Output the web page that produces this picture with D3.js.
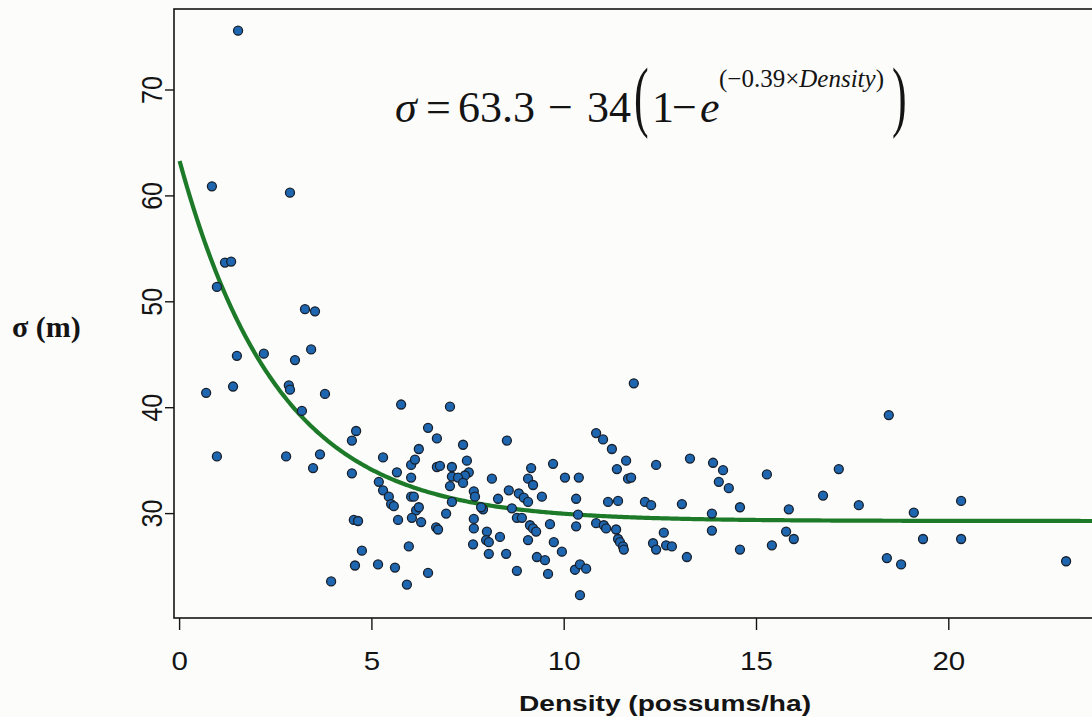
<!DOCTYPE html>
<html>
<head>
<meta charset="utf-8">
<script src="https://cdn.jsdelivr.net/npm/d3@7"></script>
<style>
  html, body { margin: 0; padding: 0; background: #fcfcfb; }
  svg { display: block; }
</style>
</head>
<body>
<svg id="chart" width="1092" height="717"></svg>
<script>
// Possum density (per ha) against home-range scale sigma (m)
const density = [
  1.52,0.84,2.87,1.18,1.34,0.97,3.26,3.52,1.49,2.19,
  3.00,3.42,0.69,1.39,2.84,2.87,3.78,3.18,5.76,7.03,
  0.97,2.77,3.65,3.47,4.48,4.59,4.48,5.29,5.65,6.02,
  6.12,6.22,6.46,6.69,6.69,6.77,6.02,5.18,5.29,5.44,
  5.50,5.57,6.02,6.09,6.15,6.22,6.04,6.28,5.68,4.53,
  4.64,6.93,6.67,6.72,4.74,4.56,5.16,5.60,3.94,5.96,
  5.91,6.46,7.08,7.37,7.47,7.52,7.42,7.08,7.24,7.37,
  7.03,7.08,7.65,7.68,7.65,7.65,7.89,7.84,7.99,7.97,
  8.04,7.63,8.33,8.12,8.28,8.51,8.56,8.64,8.77,8.90,
  8.82,8.95,9.06,9.06,9.14,9.19,9.11,9.19,9.27,9.06,
  9.42,9.71,9.63,9.73,9.94,10.02,10.38,10.31,10.36,10.31,
  10.28,10.41,10.57,10.41,9.29,9.50,9.58,8.77,8.49,8.04,
  10.83,11.01,11.24,11.61,11.37,11.66,11.14,11.40,10.83,11.03,
  11.09,11.35,11.40,11.45,11.53,11.55,11.81,11.74,12.39,13.27,
  13.87,14.13,14.02,14.28,14.57,15.27,17.14,16.73,15.84,17.66,
  12.10,12.26,13.06,13.84,13.84,12.59,12.31,12.39,12.65,12.80,
  13.19,14.57,15.40,15.77,15.97,18.44,19.09,20.32,19.33,20.32,
  18.39,18.76,23.05
];
const sigma = [
  75.6,60.9,60.3,53.7,53.8,51.4,49.3,49.1,44.9,45.1,
  44.5,45.5,41.4,42.0,42.1,41.7,41.3,39.7,40.3,40.1,
  35.4,35.4,35.6,34.3,36.9,37.8,33.8,35.3,33.9,34.6,
  35.1,36.1,38.1,37.1,34.4,34.5,33.4,33.0,32.2,31.6,
  30.9,30.7,31.6,31.6,30.3,30.6,29.6,29.2,29.4,29.4,
  29.3,30.0,28.7,28.5,26.5,25.1,25.2,24.9,23.6,26.9,
  23.3,24.4,34.4,36.5,35.0,33.9,33.6,33.5,33.4,32.9,
  32.6,31.1,32.1,31.6,29.5,28.6,30.4,30.6,28.3,27.5,
  27.3,27.1,27.8,33.3,31.4,36.9,32.2,30.5,29.6,29.6,
  31.9,31.5,31.1,33.3,34.3,32.7,28.9,28.6,28.3,27.5,
  31.6,34.7,29.0,27.3,26.4,33.4,33.4,31.4,29.9,28.8,
  24.7,25.2,24.8,22.3,25.9,25.6,24.3,24.6,26.2,26.2,
  37.6,37.0,36.1,35.0,34.2,33.3,31.1,31.2,29.1,28.9,
  28.6,28.5,27.6,27.3,26.9,26.6,42.3,33.4,34.6,35.2,
  34.8,34.1,33.0,32.4,30.6,33.7,34.2,31.7,30.4,30.8,
  31.1,30.8,30.9,30.0,28.4,28.2,27.2,26.6,27.0,26.9,
  25.9,26.6,27.0,28.3,27.6,39.3,30.1,31.2,27.6,27.6,
  25.8,25.2,25.5
];
const xTicks = [0, 5, 10, 15, 20];
const yTicks = [30, 40, 50, 60, 70];

// Fitted model: sigma = a - b * (1 - exp(-c * Density))
const fitA = 63.3, fitB = 34, fitC = 0.39;

const svg = d3.select("#chart");
const box = { left: 174, right: 1100, top: 9, bottom: 618 };

const x = d3.scaleLinear().domain([0, 20]).range([179.6, 948.8]);
const y = d3.scaleLinear().domain([30, 70]).range([513.6, 90]);

const ink = "#141414";
const sansTick = "'Liberation Sans', Arial, sans-serif";
const serif = "'Liberation Serif', 'Times New Roman', serif";

// plot frame (right side runs past the page)
svg.append("rect")
  .attr("x", box.left).attr("y", box.top)
  .attr("width", box.right - box.left).attr("height", box.bottom - box.top)
  .attr("fill", "none").attr("stroke", ink).attr("stroke-width", 1.6);

// x axis ticks and labels
const gx = svg.append("g");
gx.selectAll("line").data(xTicks).join("line")
  .attr("x1", d => x(d)).attr("x2", d => x(d))
  .attr("y1", box.bottom).attr("y2", box.bottom + 12)
  .attr("stroke", ink).attr("stroke-width", 1.4);
gx.selectAll("text").data(xTicks).join("text")
  .attr("transform", d => `translate(${x(d)},670) scale(1.18,1)`)
  .attr("text-anchor", "middle")
  .attr("font-family", sansTick).attr("font-size", 25)
  .attr("fill", ink)
  .text(d => d);

// y axis ticks and rotated labels
const gy = svg.append("g");
gy.selectAll("line").data(yTicks).join("line")
  .attr("x1", box.left - 9).attr("x2", box.left)
  .attr("y1", d => y(d)).attr("y2", d => y(d))
  .attr("stroke", ink).attr("stroke-width", 1.4);
gy.selectAll("text").data(yTicks).join("text")
  .attr("transform", d => `translate(162,${y(d)}) rotate(-90) scale(1,1.2)`)
  .attr("text-anchor", "middle")
  .attr("font-family", sansTick).attr("font-size", 25)
  .attr("fill", ink)
  .text(d => d);

// axis titles
svg.append("text")
  .attr("x", 519).attr("y", 711)
  .attr("font-family", sansTick).attr("font-weight", "bold")
  .attr("font-size", 22)
  .attr("textLength", 292).attr("lengthAdjust", "spacingAndGlyphs")
  .attr("fill", ink)
  .text("Density (possums/ha)");

svg.append("text")
  .attr("x", 12).attr("y", 337)
  .attr("font-family", serif).attr("font-weight", "bold")
  .attr("font-size", 30)
  .attr("fill", ink)
  .text("σ (m)");

// fitted curve
const curveX = d3.range(0, 24.01, 0.05);
const line = d3.line()
  .x(d => x(d))
  .y(d => y(fitA - fitB * (1 - Math.exp(-fitC * d))))
  .curve(d3.curveLinear);
svg.append("path")
  .datum(curveX)
  .attr("d", line)
  .attr("fill", "none")
  .attr("stroke", "#1c7a28")
  .attr("stroke-width", 4.2)
  .attr("stroke-linejoin", "round");

// observations
const pts = density.map((d, i) => ({ d, s: sigma[i] }));
svg.append("g").selectAll("circle").data(pts).join("circle")
  .attr("cx", p => x(p.d))
  .attr("cy", p => y(p.s))
  .attr("r", 4.5)
  .attr("fill", "#1f66b0")
  .attr("stroke", "#17202c")
  .attr("stroke-width", 1.3);

// model equation
const eq = svg.append("g").attr("font-family", serif).attr("fill", ink);
const base = 122, expBase = 87;
eq.append("text").attr("x", 395).attr("y", base).attr("font-size", 44)
  .attr("font-style", "italic").text("σ");
eq.append("text").attr("x", 426).attr("y", base).attr("font-size", 44).text("=");
eq.append("text").attr("x", 458).attr("y", base).attr("font-size", 44).text("63.3");
eq.append("text").attr("x", 548).attr("y", base).attr("font-size", 44).text("−");
eq.append("text").attr("x", 587).attr("y", base).attr("font-size", 44).text("34");
eq.append("text").attr("transform", `translate(634,${base}) scale(1,1.8)`)
  .attr("font-size", 44).text("(");
eq.append("text").attr("x", 652).attr("y", base).attr("font-size", 44).text("1");
eq.append("text").attr("x", 672).attr("y", base).attr("font-size", 44).text("−");
eq.append("text").attr("x", 700).attr("y", base).attr("font-size", 44)
  .attr("font-style", "italic").text("e");
const ex = eq.append("text").attr("x", 719).attr("y", expBase).attr("font-size", 25);
ex.append("tspan").text("(−0.39×");
ex.append("tspan").attr("font-style", "italic").text("Density");
ex.append("tspan").text(")");
eq.append("text").attr("transform", `translate(892,${base}) scale(1,1.8)`)
  .attr("font-size", 44).text(")");
</script>
</body>
</html>
